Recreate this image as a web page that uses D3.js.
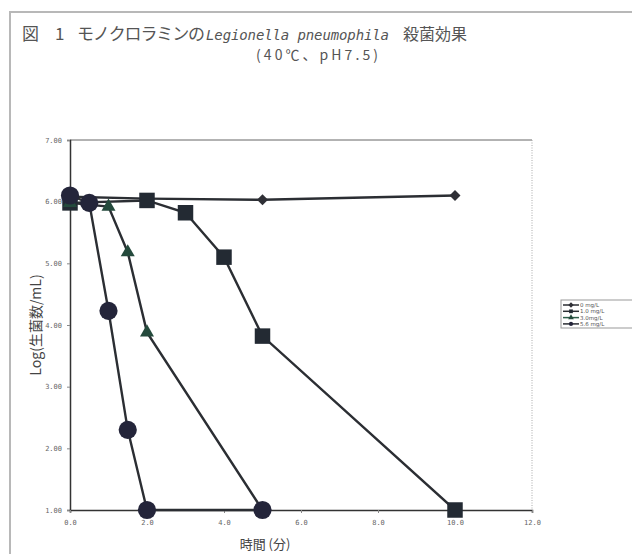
<!DOCTYPE html>
<html><head><meta charset="utf-8">
<script src="https://cdn.jsdelivr.net/npm/d3@7"></script>
<style>html,body{margin:0;padding:0;background:#fff;}svg{display:block;}</style>
</head><body>
<script>
const seriesNames = ["0 mg/L", "1.0 mg/L", "3.0mg/L", "5.6 mg/L"];
const t0 = [0, 2, 5, 10];           const v0 = [6.08, 6.05, 6.03, 6.10];
const t1 = [0, 2, 3, 4, 5, 10];     const v1 = [5.98, 6.02, 5.82, 5.10, 3.82, 1.00];
const t3 = [0, 1, 1.5, 2, 5];       const v3 = [5.98, 5.92, 5.18, 3.88, 1.00];
const t5 = [0, 0.5, 1, 1.5, 2, 5];  const v5 = [6.10, 5.98, 4.23, 2.30, 1.00, 1.00];
const xTicks = [0, 2, 4, 6, 8, 10, 12];
const yTicks = [1, 2, 3, 4, 5, 6, 7];
const titleParts = ["図", "1", "モノクロラミンの", "Legionella pneumophila", "殺菌効果"];
const titleLine2 = "(40℃、pH7.5)";
const xLabel = "時間 (分)";
const yLabel = "Log(生菌数/mL)";

const W = 632, H = 554;
const svg = d3.select("body").append("svg").attr("width", W).attr("height", H);
const font = "'Noto Sans CJK JP', 'Noto Sans', sans-serif";

// outer frame
svg.append("rect").attr("x", 10).attr("y", 12).attr("width", 640).attr("height", 560)
  .attr("fill", "none").attr("stroke", "#b8b8b8").attr("stroke-width", 2);

// title
const tcol = "#555";
function tpart(txt, x0, len, opts) {
  const t = svg.append("text").attr("x", x0).attr("y", 40).attr("font-family", font)
    .attr("font-size", 17).attr("fill", tcol).text(txt)
    .attr("textLength", len).attr("lengthAdjust", "spacing");
  if (opts) Object.entries(opts).forEach(([k, v]) => t.attr(k, v));
  return t;
}
tpart(titleParts[0], 22, 18);
tpart(titleParts[1], 55, 9);
tpart(titleParts[2], 77, 128);
tpart(titleParts[3], 206, 183, {"font-style": "italic", "font-family": "'DejaVu Sans Mono', monospace", "font-size": 14});
tpart(titleParts[4], 403, 64, {"font-size": 16});
svg.append("text").attr("x", 256).attr("y", 60)
  .attr("font-family", font).attr("font-size", 14).attr("fill", tcol).text(titleLine2)
  .attr("textLength", 122).attr("lengthAdjust", "spacing");

const x = d3.scaleLinear().domain([0, 12]).range([70, 532]);
const y = d3.scaleLinear().domain([1, 7]).range([510, 140]);

// plot box: top solid, right dotted
svg.append("line").attr("x1", x(0)).attr("x2", x(12)).attr("y1", y(7)).attr("y2", y(7))
  .attr("stroke", "#666").attr("stroke-width", 1);
svg.append("line").attr("x1", x(12)).attr("x2", x(12)).attr("y1", y(7)).attr("y2", y(1))
  .attr("stroke", "#aaa").attr("stroke-width", 1).attr("stroke-dasharray", "1,1.5");

// axes
const yAxis = svg.append("g").attr("transform", `translate(${x(0)},0)`)
  .call(d3.axisLeft(y).tickValues(yTicks).tickFormat(d3.format(".2f")).tickSize(3).tickPadding(5));
const xAxis = svg.append("g").attr("transform", `translate(0,${y(1)})`)
  .call(d3.axisBottom(x).tickValues(xTicks).tickFormat(d3.format(".1f")).tickSize(3).tickPadding(7));
[yAxis, xAxis].forEach(g => {
  g.select(".domain").attr("stroke", "#333").attr("stroke-width", 1.5);
  g.selectAll(".tick line").attr("stroke", "#888");
  g.selectAll(".tick text").attr("font-family", "'DejaVu Sans Mono', monospace").attr("font-size", 7).attr("fill", "#666");
});

// axis labels
svg.append("text").attr("transform", `translate(41,${(y(1)+y(7))/2}) rotate(-90)`)
  .attr("text-anchor", "middle").attr("font-family", font).attr("font-size", 14).attr("fill", "#444").text(yLabel);
svg.append("text").attr("x", 265).attr("y", 549).attr("text-anchor", "middle")
  .attr("font-family", font).attr("font-size", 13).attr("fill", "#444").text(xLabel);

const diamond = {draw(ctx, size) { const r = Math.sqrt(size / 2); ctx.moveTo(0, -r); ctx.lineTo(r, 0); ctx.lineTo(0, r); ctx.lineTo(-r, 0); ctx.closePath(); }};
const series = [
  {name: seriesNames[0], t: t0, v: v0, shape: diamond, size: 60, fill: "#2f3036"},
  {name: seriesNames[1], t: t1, v: v1, shape: d3.symbolSquare, size: 240, fill: "#232a33"},
  {name: seriesNames[2], t: t3, v: v3, shape: d3.symbolTriangle, size: 85, fill: "#244a3c"},
  {name: seriesNames[3], t: t5, v: v5, shape: d3.symbolCircle, size: 260, fill: "#24253a"}
];
const lineGen = d3.line().x(d => x(d[0])).y(d => y(d[1]));
series.forEach(s => {
  const pts = s.t.map((t, i) => [t, s.v[i]]);
  svg.append("path").attr("d", lineGen(pts)).attr("fill", "none")
    .attr("stroke", "#2b2e33").attr("stroke-width", 2.4);
});
series.forEach(s => {
  const pts = s.t.map((t, i) => [t, s.v[i]]);
  svg.append("g").selectAll("path").data(pts).join("path")
    .attr("transform", d => `translate(${x(d[0])},${y(d[1])})`)
    .attr("d", d3.symbol().type(s.shape).size(s.size)).attr("fill", s.fill);
});

// legend
const lg = svg.append("g").attr("transform", "translate(561,300)");
lg.append("rect").attr("x", 0).attr("y", 0).attr("width", 80).attr("height", 28)
  .attr("fill", "#fff").attr("stroke", "#999").attr("stroke-width", 1);
series.forEach((s, i) => {
  const yy = 5 + i * 6.3;
  lg.append("line").attr("x1", 2).attr("x2", 18).attr("y1", yy).attr("y2", yy)
    .attr("stroke", i === 2 ? "#2e5e4a" : "#2b2e33").attr("stroke-width", 1.5);
  lg.append("path").attr("transform", `translate(10,${yy})`)
    .attr("d", d3.symbol().type(s.shape).size(14)).attr("fill", s.fill);
  lg.append("text").attr("x", 19).attr("y", yy + 2).attr("font-family", "'DejaVu Sans', sans-serif")
    .attr("font-size", 5.5).attr("fill", "#555").text(s.name);
});
</script>
</body></html>
